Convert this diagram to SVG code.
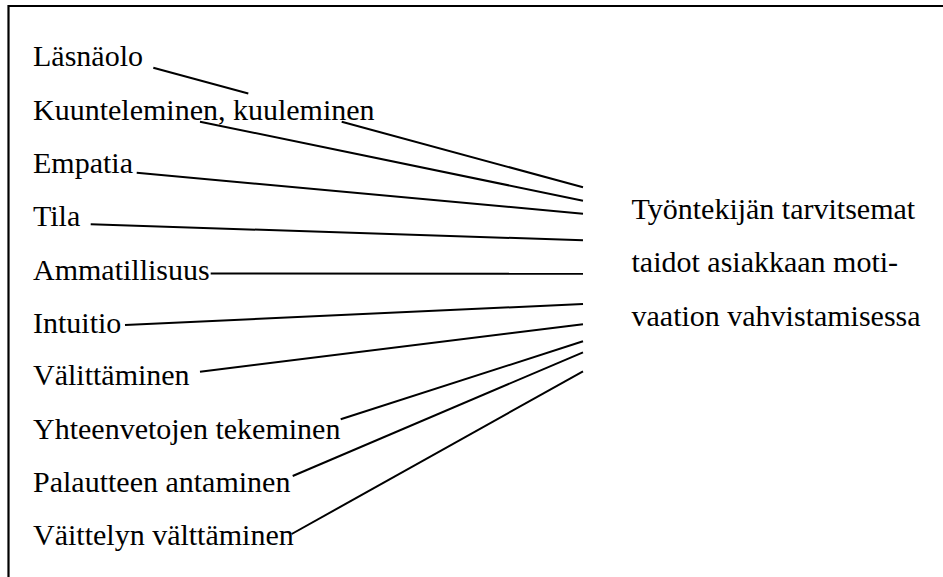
<svg xmlns="http://www.w3.org/2000/svg" width="943" height="577" viewBox="0 0 943 577">
  <style>
    .frame { fill: none; stroke: #000; stroke-width: 2.2; }
    .link { stroke: #000; stroke-width: 2; fill: none; stroke-linecap: butt; }
  </style>
  <rect width="943" height="577" fill="#fff"/>

  <!-- open frame: top and left edges -->
  <path class="frame" d="M8.5,577 V6 H943"/>

  <g font-family="Liberation Serif, DejaVu Serif, serif" font-size="30" fill="#000">
    <!-- skill labels -->
    <g id="n-lasnaolo"><text x="33" y="66">Läsnäolo</text></g>
    <g id="n-kuunteleminen"><text x="33" y="119.5">Kuunteleminen, kuuleminen</text></g>
    <g id="n-empatia"><text x="33" y="172.5">Empatia</text></g>
    <g id="n-tila"><text x="33" y="225.8">Tila</text></g>
    <g id="n-ammatillisuus"><text x="33" y="279.5">Ammatillisuus</text></g>
    <g id="n-intuitio"><text x="33" y="332.5">Intuitio</text></g>
    <g id="n-valittaminen"><text x="33" y="385.2">Välittäminen</text></g>
    <g id="n-yhteenvetojen"><text x="33" y="439">Yhteenvetojen tekeminen</text></g>
    <g id="n-palautteen"><text x="33" y="491.5">Palautteen antaminen</text></g>
    <g id="n-vaittelyn"><text x="33" y="545">Väittelyn välttäminen</text></g>

    <!-- central statement -->
    <g id="n-taidot">
      <text x="631.5" y="219">Työntekijän tarvitsemat</text>
      <text x="631.5" y="272">taidot asiakkaan moti-</text>
      <text x="631.5" y="325.5">vaation vahvistamisessa</text>
    </g>
  </g>

  <!-- connectors -->
  <g id="connectors" class="link">
    <line x1="153.3" y1="67.7" x2="248.3" y2="93.5"/>
    <line x1="341.7" y1="121.7" x2="583" y2="187.3"/>
    <line x1="200" y1="121.7" x2="583" y2="200.7"/>
    <line x1="136.7" y1="172.7" x2="583" y2="213.7"/>
    <line x1="90.7" y1="224.3" x2="583" y2="240.3"/>
    <line x1="210.7" y1="273.5" x2="583" y2="273.8"/>
    <line x1="125" y1="325" x2="583" y2="304"/>
    <line x1="200" y1="371.7" x2="583" y2="324.3"/>
    <line x1="340.7" y1="419.3" x2="583" y2="341.3"/>
    <line x1="292.7" y1="476" x2="583" y2="352.3"/>
    <line x1="291.7" y1="534" x2="583" y2="371.3"/>
  </g>
</svg>
